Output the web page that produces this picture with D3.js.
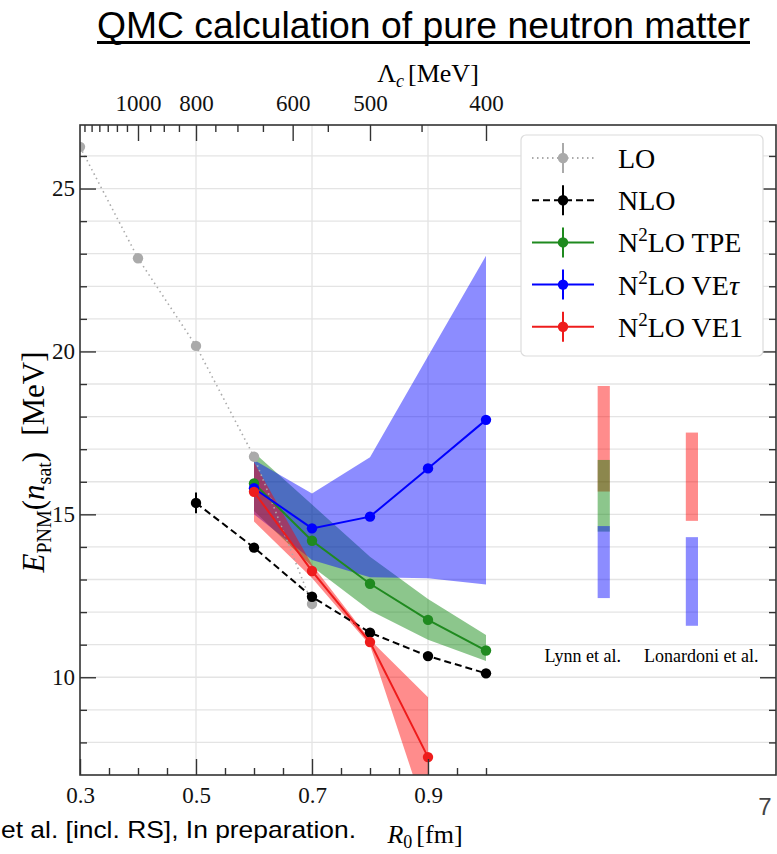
<!DOCTYPE html>
<html>
<head>
<meta charset="utf-8">
<script src="https://cdn.jsdelivr.net/npm/d3@7"></script>
<style>
  body { margin: 0; background: #fff; }
  svg { display: block; }
  .serif { font-family: "Liberation Serif", "DejaVu Serif", serif; }
</style>
</head>
<body>
<svg id="chart" width="777" height="854"></svg>
<script>
// ----------------------- data

var loR0 = [0.3, 0.4, 0.5, 0.6, 0.7];
var loE = [26.28, 22.86, 20.17, 16.77, 12.25];

var nloR0 = [0.5, 0.6, 0.7, 0.8, 0.9, 1.0];
var nloE = [15.35, 13.98, 12.47, 11.37, 10.65, 10.12];
var nloErr = [0.32, 0.06, 0.06, 0.06, 0.06, 0.06];

var n2loR0 = [0.6, 0.7, 0.8, 0.9, 1.0];
var tpeE = [15.95, 14.19, 12.87, 11.76, 10.82];
var tpeLo = [15.1, 13.4, 12.05, 11.15, 10.5];
var tpeHi = [16.9, 15.3, 13.7, 12.4, 11.3];

var vetE = [15.8, 14.57, 14.93, 16.41, 17.9];
var vetLo = [15.0, 13.6, 13.07, 13.04, 12.85];
var vetHi = [16.67, 15.64, 16.75, 19.85, 22.94];

var ve1R0 = [0.6, 0.7, 0.8, 0.9];
var ve1E = [15.69, 13.26, 11.08, 7.55];
var ve1Lo = [14.78, 13.05, 10.98, 5.6];
var ve1Hi = [16.6, 13.45, 11.15, 9.39];

// reference results on the right
var refNames = ["Lynn et al.", "Lonardoni et al."];
var refX = [1.203, 1.355];
var refLabelX = [1.167, 1.371];
var refVE1 = [[15.70, 18.94], [14.80, 17.51]];
var refTPE = [[14.47, 16.67], null];
var refVEt = [[12.43, 14.64], [11.58, 14.30]];

var xMajor = [0.3, 0.5, 0.7, 0.9];
var xMinor = [0.35, 0.4, 0.45, 0.55, 0.6, 0.65, 0.75, 0.8, 0.85, 0.95, 1.0];
var yMajor = [10, 15, 20, 25];
var yMinor = [8, 9, 11, 12, 13, 14, 16, 17, 18, 19, 21, 22, 23, 24, 26];
var lamMajor = [1000, 800, 600, 500, 400];
var lamMinor = [1300, 1250, 1200, 1150, 1100, 1050, 950, 900, 850, 750, 700, 650, 550, 450];

var legendNames = ["LO", "NLO", "N2LO TPE", "N2LO VEt", "N2LO VE1"];
var legendColors = ["#aaaaaa", "#000000", "#1f8a1f", "#0000ff", "#ee1c1c"];

// ----------------------- layout

var pL = 80, pR = 776, pT = 125, pB = 775;
var svg = d3.select("#chart");

var x = d3.scaleLinear().domain([0.3, 1.5]).range([pL, pR]);
var y = d3.scaleLinear().domain([7, 26.95]).range([pB, pT]);

svg.append("defs").append("clipPath").attr("id", "plotclip")
    .append("rect").attr("x", pL).attr("y", pT)
    .attr("width", pR - pL).attr("height", pB - pT);

// title
svg.append("text")
    .attr("x", 97).attr("y", 38)
    .attr("textLength", 653).attr("lengthAdjust", "spacingAndGlyphs")
    .style("font-family", "'Liberation Sans', Arial, sans-serif")
    .style("font-size", "37px")
    .text("QMC calculation of pure neutron matter");
svg.append("rect").attr("x", 97).attr("y", 41).attr("width", 653).attr("height", 3).attr("fill", "#000");

// grid
var grid = svg.append("g");
grid.selectAll("line.h").data(yMajor.concat(yMinor)).enter().append("line")
    .attr("x1", pL).attr("x2", pR)
    .attr("y1", function(d) { return y(d); }).attr("y2", function(d) { return y(d); })
    .attr("stroke", "#e4e4e4").attr("stroke-width", 1.3);
grid.selectAll("line.v").data(xMajor.slice(1)).enter().append("line")
    .attr("y1", pT).attr("y2", pB)
    .attr("x1", function(d) { return x(d); }).attr("x2", function(d) { return x(d); })
    .attr("stroke", "#e4e4e4").attr("stroke-width", 1.3);

var plot = svg.append("g").attr("clip-path", "url(#plotclip)");

// bands
function band(xs, lo, hi, color) {
    var area = d3.area()
        .x(function(d, i) { return x(xs[i]); })
        .y0(function(d, i) { return y(lo[i]); })
        .y1(function(d, i) { return y(hi[i]); });
    plot.append("path").datum(xs).attr("d", area)
        .attr("fill", color).attr("fill-opacity", 0.45).attr("stroke", "none");
}
band(n2loR0, tpeLo, tpeHi, "#008000");
band(n2loR0, vetLo, vetHi, "#0000ff");
band(ve1R0, ve1Lo, ve1Hi, "#ff0000");

// reference bars
var barW = 0.021;
function refBar(ranges, color) {
    ranges.forEach(function(r, i) {
        if (!r) return;
        plot.append("rect")
            .attr("x", x(refX[i] - barW / 2)).attr("width", x(barW) - x(0))
            .attr("y", y(r[1])).attr("height", y(r[0]) - y(r[1]))
            .attr("fill", color).attr("fill-opacity", 0.45);
    });
}
refBar(refVE1, "#ff0000");
refBar(refTPE, "#008000");
refBar(refVEt, "#0000ff");

svg.selectAll("text.ref").data(refNames).enter().append("text")
    .attr("class", "serif")
    .attr("x", function(d, i) { return x(refLabelX[i]); })
    .attr("y", 662)
    .attr("text-anchor", "middle")
    .style("font-size", "18px")
    .text(function(d) { return d; });

// series lines
function series(xs, ys, errs, color, dash, width) {
    var line = d3.line()
        .x(function(d, i) { return x(xs[i]); })
        .y(function(d) { return y(d); });
    plot.append("path").datum(ys).attr("d", line)
        .attr("fill", "none").attr("stroke", color)
        .attr("stroke-width", width).attr("stroke-dasharray", dash);
    if (errs) {
        plot.selectAll(null).data(ys).enter().append("line")
            .attr("x1", function(d, i) { return x(xs[i]); })
            .attr("x2", function(d, i) { return x(xs[i]); })
            .attr("y1", function(d, i) { return y(d - errs[i]); })
            .attr("y2", function(d, i) { return y(d + errs[i]); })
            .attr("stroke", color).attr("stroke-width", 2);
    }
    plot.selectAll(null).data(ys).enter().append("circle")
        .attr("cx", function(d, i) { return x(xs[i]); })
        .attr("cy", function(d) { return y(d); })
        .attr("r", 5.2).attr("fill", color);
}
series(loR0, loE, null, legendColors[0], "1.5,3.5", 1.6);
series(nloR0, nloE, nloErr, legendColors[1], "7,4", 2);
series(n2loR0, tpeE, null, legendColors[2], null, 2);
series(n2loR0, vetE, null, legendColors[3], null, 2);
series(ve1R0, ve1E, null, legendColors[4], null, 2);

// ----------------------- axes
var axisColor = "#333";
function styleAxis(g) {
    g.select(".domain").remove();
    g.selectAll("line").attr("stroke", axisColor).attr("stroke-width", 1.4);
    g.selectAll("text").attr("class", "serif").style("font-size", "23px").attr("fill", "#111");
}
var fmt = d3.format(".1f");

svg.append("g").attr("transform", "translate(0," + pB + ")")
    .call(d3.axisBottom(x).tickValues(xMinor).tickSize(-7).tickFormat(""))
    .call(styleAxis);
svg.append("g").attr("transform", "translate(0," + pB + ")")
    .call(d3.axisBottom(x).tickValues(xMajor).tickSize(-16).tickPadding(12).tickFormat(fmt))
    .call(styleAxis);

svg.append("g").attr("transform", "translate(" + pL + ",0)")
    .call(d3.axisLeft(y).tickValues(yMinor).tickSize(-7).tickFormat(""))
    .call(styleAxis);
svg.append("g").attr("transform", "translate(" + pL + ",0)")
    .call(d3.axisLeft(y).tickValues(yMajor).tickSize(-16).tickPadding(5))
    .call(styleAxis);

svg.append("g").attr("transform", "translate(" + pR + ",0)")
    .call(d3.axisRight(y).tickValues(yMinor).tickSize(-7).tickFormat(""))
    .call(styleAxis);
svg.append("g").attr("transform", "translate(" + pR + ",0)")
    .call(d3.axisRight(y).tickValues(yMajor).tickSize(-16).tickFormat(""))
    .call(styleAxis);

// top axis: Lambda_c = 400 MeV fm / R0
svg.append("g").attr("transform", "translate(0," + pT + ")")
    .call(d3.axisTop(x).tickValues(lamMinor.map(function(l) { return 400 / l; }))
        .tickSize(-7).tickFormat(""))
    .call(styleAxis);
svg.append("g").attr("transform", "translate(0," + pT + ")")
    .call(d3.axisTop(x).tickValues(lamMajor.map(function(l) { return 400 / l; }))
        .tickSize(-16).tickPadding(14)
        .tickFormat(function(d) { return Math.round(400 / d); }))
    .call(styleAxis);

// frame
svg.append("rect").attr("x", pL).attr("y", pT)
    .attr("width", pR - pL).attr("height", pB - pT)
    .attr("fill", "none").attr("stroke", axisColor).attr("stroke-width", 1.6);

// axis titles
var topTitle = svg.append("text").attr("class", "serif")
    .attr("x", 428).attr("y", 82).attr("text-anchor", "middle").style("font-size", "26px");
topTitle.append("tspan").text("Λ");
topTitle.append("tspan").attr("dy", 5).style("font-size", "18px").style("font-style", "italic").text("c");
topTitle.append("tspan").attr("dy", -5).attr("dx", 4).text("[MeV]");

var botTitle = svg.append("text").attr("class", "serif")
    .attr("x", 425).attr("y", 843).attr("text-anchor", "middle").style("font-size", "26px");
botTitle.append("tspan").style("font-style", "italic").text("R");
botTitle.append("tspan").attr("dy", 5).style("font-size", "18px").text("0");
botTitle.append("tspan").attr("dy", -5).attr("dx", 4).text("[fm]");

var yTitle = svg.append("text").attr("class", "serif")
    .attr("transform", "translate(44,462) rotate(-90)")
    .attr("text-anchor", "middle").style("font-size", "31px");
yTitle.append("tspan").style("font-style", "italic").text("E");
yTitle.append("tspan").attr("dy", 7).style("font-size", "20px").text("PNM");
yTitle.append("tspan").attr("dy", -7).text("(");
yTitle.append("tspan").style("font-style", "italic").text("n");
yTitle.append("tspan").attr("dy", 7).style("font-size", "20px").text("sat");
yTitle.append("tspan").attr("dy", -7).text(")");
yTitle.append("tspan").attr("dx", 16).text("[MeV]");

// ----------------------- legend
var lg = svg.append("g");
lg.append("rect").attr("x", 521).attr("y", 135).attr("width", 242).attr("height", 221)
    .attr("rx", 5).attr("fill", "#fff").attr("stroke", "#dcdcdc").attr("stroke-width", 1.2);
var legendDash = ["1.5,3.5", "7,4", null, null, null];
legendNames.forEach(function(name, i) {
    var ly = 158 + i * 42.2;
    var c = legendColors[i];
    lg.append("line").attr("x1", 532).attr("x2", 594).attr("y1", ly).attr("y2", ly)
        .attr("stroke", c).attr("stroke-width", 2).attr("stroke-dasharray", legendDash[i]);
    lg.append("line").attr("x1", 563).attr("x2", 563).attr("y1", ly - 15).attr("y2", ly + 15)
        .attr("stroke", c).attr("stroke-width", 2);
    lg.append("circle").attr("cx", 563).attr("cy", ly).attr("r", 5.2).attr("fill", c);
    var t = lg.append("text").attr("class", "serif").attr("x", 618).attr("y", ly + 10)
        .style("font-size", "28px");
    if (name.indexOf("N2LO") === 0) {
        var rest = name.slice(5);
        t.append("tspan").text("N");
        t.append("tspan").attr("dy", -11).style("font-size", "19px").text("2");
        t.append("tspan").attr("dy", 11).text("LO ");
        if (rest === "VEt") {
            t.append("tspan").text("VE");
            t.append("tspan").style("font-style", "italic").text("τ");
        } else {
            t.append("tspan").text(rest);
        }
    } else {
        t.text(name);
    }
});

// slide leftovers
svg.append("text").attr("x", 1).attr("y", 838)
    .attr("textLength", 355).attr("lengthAdjust", "spacingAndGlyphs")
    .style("font-family", "'Liberation Sans', Arial, sans-serif").style("font-size", "24px")
    .text("et al. [incl. RS], In preparation.");
svg.append("text").attr("x", 765).attr("y", 815).attr("text-anchor", "middle")
    .style("font-family", "'Liberation Sans', Arial, sans-serif").style("font-size", "24px")
    .attr("fill", "#444").text("7");
</script>
</body>
</html>
